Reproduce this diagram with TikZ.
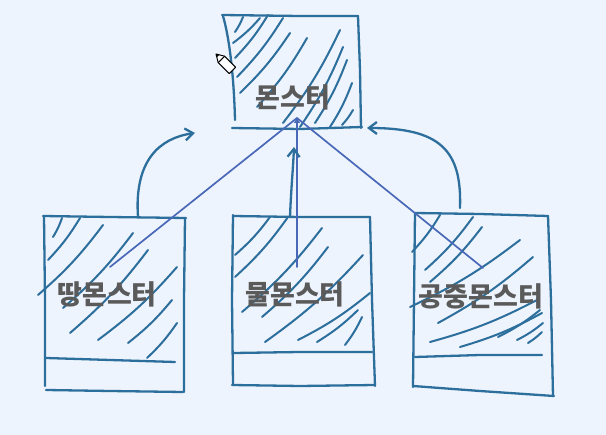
\documentclass[tikz,border=0pt]{standalone}
\usepackage{fontspec}
\newfontfamily\krfont{Noto Sans CJK KR}
\usetikzlibrary{arrows.meta}
\definecolor{bgcol}{HTML}{EEF4FD}
\definecolor{penblue}{HTML}{2D6F9C}
\definecolor{linkblue}{HTML}{4A68B8}
\definecolor{labelgray}{HTML}{5A5A5A}
\tikzset{
	box/.style={color=penblue,line width=2.3pt},
	hatch/.style={color=penblue,line width=2pt},
	link/.style={color=linkblue,line width=1.7pt},
	label/.style={text=labelgray,font=\krfont\bfseries\fontsize{27}{31}\selectfont,inner sep=0pt}
}
\begin{document}
\begin{tikzpicture}[line cap=round,line join=round,>={Straight Barb[length=8pt,width=12pt]},x=1pt,y=-1pt]
		\fill [color=bgcol] (0,0) rectangle (606,435);
		\useasboundingbox (0,0) rectangle (606,435);
		% top box
		\draw [box] (222,15) -- (300,16) -- (358,16);
		\draw [box] (223,16) .. controls (230,40) and (234,80) .. (235,120);
		\draw [box] (358,16) -- (360,70) -- (361,128);
		\draw [box] (232,128) -- (300,129) -- (362,127);
		\foreach \a/\b/\c/\d in {235/32/243/17,233/43/260/18,235/58/268/15,237/77/283/18,240/93/290/33,257/107/307/38,283/123/340/30,300/127/343/47,315/123/347/60,330/127/352/83,342/125/353/110}
		\draw [hatch] (\a,\b) to[bend right=6] (\c,\d);
		% lower boxes
		\draw [box] (43,216) -- (110,217) -- (186,218);
		\draw [box] (44,216) -- (45,300) -- (45,386);
		\draw [box] (185,218) -- (184,300) -- (184,392);
		\draw [box] (46,390) -- (110,391) -- (183,392);
		\draw [box] (46,358) -- (110,360) -- (175,362);
		\foreach \a/\b/\c/\d in {53/237/62/218,48/260/80/218,38/295/103/225,63/308/133/233,70/333/148/250,98/340/177/267,128/343/172/300,147/358/177/323}
		\draw [hatch] (\a,\b) to[bend right=6] (\c,\d);
		\draw [box] (233,216) -- (300,217) -- (370,217);
		\draw [box] (233,215) -- (232,300) -- (233,384);
		\draw [box] (370,217) -- (372,300) -- (375,386);
		\draw [box] (232,385) -- (300,386) -- (375,385);
		\draw [box] (234,353) -- (300,352) -- (372,352);
		\foreach \a/\b/\c/\d in {235/255/270/217,235/277/288/217,242/312/322/228,262/317/328/247,265/342/363/255,298/340/370/293,317/342/358/310,345/345/362/317}
		\draw [hatch] (\a,\b) to[bend right=6] (\c,\d);
		\draw [box] (415,213) -- (480,214) -- (548,216);
		\draw [box] (415,213) -- (414,300) -- (413,387);
		\draw [box] (548,216) -- (551,300) -- (553,396);
		\draw [box] (413,386) -- (480,391) -- (554,396);
		\draw [box] (415,357) -- (480,355) -- (542,355);
		\foreach \a/\b/\c/\d in {412/252/440/215,425/270/473/217,430/282/482/227,410/307/520/240,438/323/533/257,430/342/537/300,460/347/542/313,498/337/540/310,517/340/543/323,528/343/542/332}
		\draw [hatch] (\a,\b) to[bend right=6] (\c,\d);
		% labels
		\node [label] (monster) at (293,97) {몬스터};
		\node [label] (ground) at (107,294) {땅몬스터};
		\node [label] (water) at (295,294) {물몬스터};
		\node [label] (air) at (481,296) {공중몬스터};
		% connectors
		\coordinate (apex) at (297,118);
		\coordinate (groundtail) at (110,267);
		\coordinate (watertail) at (297,267);
		\coordinate (airtail) at (483,268);
		\draw [link] (groundtail) -- (apex);
		\draw [link] (airtail) -- (apex);
		\draw [link,-{Triangle[length=5pt,width=6pt]}] (watertail) -- (apex);
		\coordinate (groundup) at (138,217);
		\coordinate (groundhead) at (195,133);
		\coordinate (waterup) at (290,217);
		\coordinate (waterhead) at (294,147);
		\coordinate (airup) at (460,208);
		\coordinate (airhead) at (367,128);
		\draw [box,->] (groundup) .. controls (134,160) and (160,138) .. (groundhead);
		\draw [box,->] (waterup) .. controls (291,190) and (293,170) .. (waterhead);
		\draw [box,->] (airup) .. controls (462,150) and (440,128) .. (airhead);
		% pencil cursor
		\draw [fill=white,line width=1pt] (216,54) -- (224.6,56.2) -- (235.6,67.2) -- (229.2,73.6) -- (218.2,62.6) -- cycle;
		\draw [line width=1pt] (224.6,56.2) -- (218.2,62.6);
		\fill (216,54) -- (219.3,54.9) -- (216.9,57.3) -- cycle;
\end{tikzpicture}
\end{document}
